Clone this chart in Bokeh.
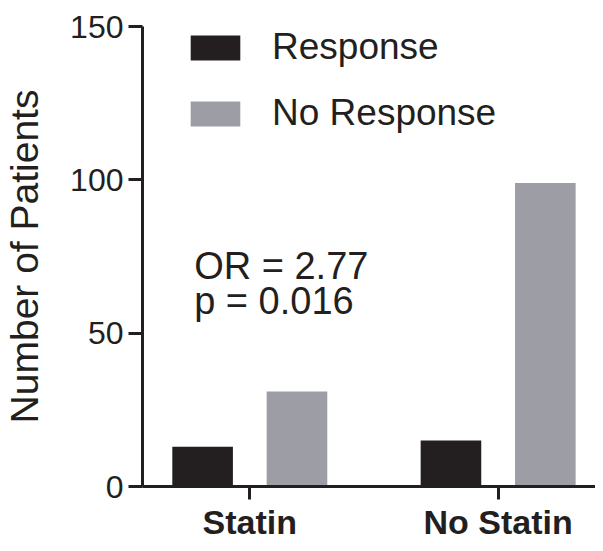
from bokeh.plotting import figure
from bokeh.models import Range1d, FixedTicker, Legend, LegendItem, Label, ColumnDataSource
from bokeh.transform import dodge
from bokeh.embed import file_html
from bokeh.resources import INLINE

# ---- data ----
categories = ["Statin", "No Statin"]
response = [13, 15]
no_response = [31, 99]
series_names = ["Response", "No Response"]
y_ticks = [0, 50, 100, 150]
stats_text = ["OR = 2.77", "p = 0.016"]

# ---- styles ----
BLACK = "#231f20"
GRAY = "#9c9da5"
FONT = "Liberation Sans"

xs = [i + 1 for i in range(len(categories))]
src = ColumnDataSource(dict(x=xs, cat=categories, resp=response, nresp=no_response))

p = figure(width=595, height=543, output_backend="svg", toolbar_location=None,
           x_range=Range1d(0.568, 2.392), y_range=Range1d(0, 150),
           min_border_left=139, min_border_right=0, min_border_top=26, min_border_bottom=40)
p.outline_line_color = None
p.xgrid.visible = False
p.ygrid.visible = False
p.background_fill_color = "white"
p.border_fill_color = "white"

r1 = p.vbar(x=dodge("x", -0.19), top="resp", width=0.244, source=src,
            fill_color=BLACK, line_color=None)
r2 = p.vbar(x=dodge("x", 0.19), top="nresp", width=0.244, source=src,
            fill_color=GRAY, line_color=None)

# x axis
xa = p.xaxis[0]
xa.ticker = FixedTicker(ticks=xs)
xa.major_label_overrides = {x: c for x, c in zip(xs, categories)}
xa.minor_tick_line_color = None
xa.major_tick_in = 0
xa.major_tick_out = 13
xa.major_tick_line_width = 3
xa.major_tick_line_color = BLACK
xa.axis_line_width = 3
xa.axis_line_color = BLACK
xa.major_label_text_font = FONT
xa.major_label_text_font_style = "bold"
xa.major_label_text_font_size = "34px"
xa.major_label_text_color = BLACK
xa.major_label_standoff = 3

# y axis
ya = p.yaxis[0]
ya.ticker = FixedTicker(ticks=y_ticks)
ya.minor_tick_line_color = None
ya.major_tick_in = 0
ya.major_tick_out = 14
ya.major_tick_line_width = 3
ya.major_tick_line_color = BLACK
ya.axis_line_width = 3
ya.axis_line_color = BLACK
ya.major_label_text_font = FONT
ya.major_label_text_font_size = "32px"
ya.major_label_text_color = BLACK
ya.major_label_standoff = 5
ya.axis_label = "Number of Patients"
ya.axis_label_text_font = FONT
ya.axis_label_text_font_style = "normal"
ya.axis_label_text_font_size = "39px"
ya.axis_label_text_color = BLACK
ya.axis_label_standoff = 21

legend = Legend(items=[LegendItem(label=series_names[0], renderers=[r1]),
                       LegendItem(label=series_names[1], renderers=[r2])],
                location=(42, 352), orientation="vertical",
                glyph_width=62, glyph_height=31, label_standoff=26,
                spacing=24, padding=0, margin=0,
                label_text_font=FONT, label_text_font_size="37px",
                label_text_color=BLACK,
                border_line_color=None, background_fill_alpha=0)
p.add_layout(legend)

p.add_layout(Label(x=0.776, y=72.0, text=stats_text[0], text_font=FONT,
                   text_font_size="38px", text_color=BLACK, text_baseline="alphabetic"))
p.add_layout(Label(x=0.776, y=60.6, text=stats_text[1], text_font=FONT,
                   text_font_size="38px", text_color=BLACK, text_baseline="alphabetic"))

open("out.html", "w").write(file_html(p, INLINE))
